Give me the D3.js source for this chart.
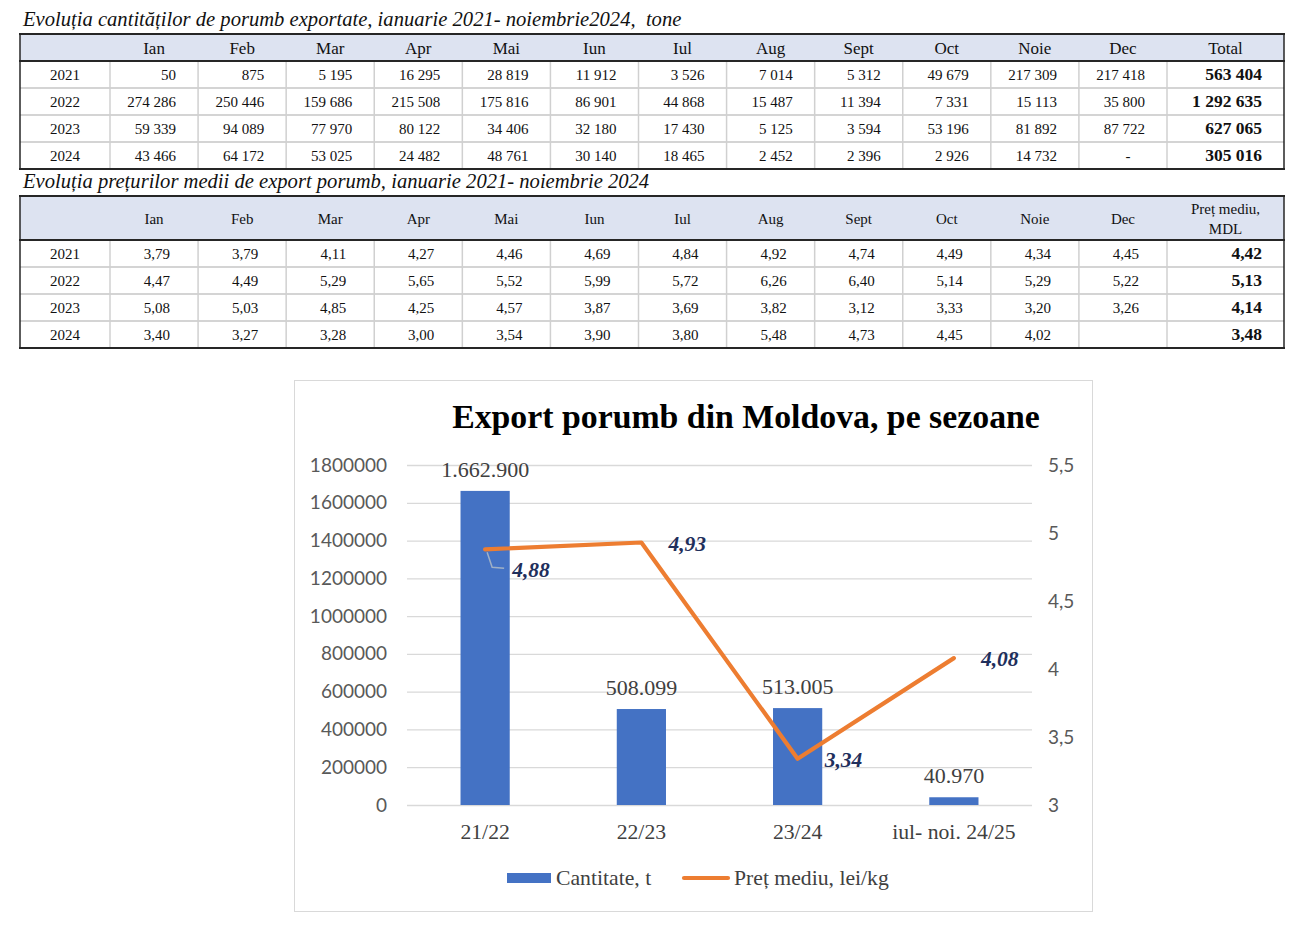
<!DOCTYPE html>
<html>
<head>
<meta charset="utf-8">
<script src="https://cdn.jsdelivr.net/npm/d3@7/dist/d3.min.js"></script>
<style>
body { margin: 0; background: #fff; }
</style>
</head>
<body>
<script>
// table data
var months = ["Ian", "Feb", "Mar", "Apr", "Mai", "Iun", "Iul", "Aug", "Sept", "Oct", "Noie", "Dec"];
var years = [2021, 2022, 2023, 2024];

var qty2021 = [50, 875, 5195, 16295, 28819, 11912, 3526, 7014, 5312, 49679, 217309, 217418];
var qty2022 = [274286, 250446, 159686, 215508, 175816, 86901, 44868, 15487, 11394, 7331, 15113, 35800];
var qty2023 = [59339, 94089, 77970, 80122, 34406, 32180, 17430, 5125, 3594, 53196, 81892, 87722];
var qty2024 = [43466, 64172, 53025, 24482, 48761, 30140, 18465, 2452, 2396, 2926, 14732, null];
var qtyTotals = [563404, 1292635, 627065, 305016];

var price2021 = [3.79, 3.79, 4.11, 4.27, 4.46, 4.69, 4.84, 4.92, 4.74, 4.49, 4.34, 4.45];
var price2022 = [4.47, 4.49, 5.29, 5.65, 5.52, 5.99, 5.72, 6.26, 6.40, 5.14, 5.29, 5.22];
var price2023 = [5.08, 5.03, 4.85, 4.25, 4.57, 3.87, 3.69, 3.82, 3.12, 3.33, 3.20, 3.26];
var price2024 = [3.40, 3.27, 3.28, 3.00, 3.54, 3.90, 3.80, 5.48, 4.73, 4.45, 4.02, null];
var priceAvg = [4.42, 5.13, 4.14, 3.48];

// chart data
var seasons = ["21/22", "22/23", "23/24", "iul- noi. 24/25"];
var seasonQty = [1662900, 508099, 513005, 40970];
var seasonPrice = [4.88, 4.93, 3.34, 4.08];
var qtyTicks = [0, 200000, 400000, 600000, 800000, 1000000, 1200000, 1400000, 1600000, 1800000];
var priceTicks = [3, 3.5, 4, 4.5, 5, 5.5];

var W = 1312, H = 932;
var serif = "'Liberation Serif', 'Times New Roman', serif";
var sans = "Lato, 'Open Sans', sans-serif";

var svg = d3.select("body").append("svg")
    .attr("width", W)
    .attr("height", H);

var spaceFmt = d3.formatLocale({decimal: ",", thousands: " ", grouping: [3], currency: ["", ""]});
var dotFmt = d3.formatLocale({decimal: ",", thousands: ".", grouping: [3], currency: ["", ""]});
var fmtQty = spaceFmt.format(",d");
var fmtPrice = spaceFmt.format(".2f");
var fmtBar = dotFmt.format(",d");
var fmtPriceLabel = dotFmt.format(".2f");
var fmtRight = dotFmt.format(".1~f");

var tableLeft = 20, tableRight = 1284, monthsRight = 1167, yearColRight = 110;
var colX = d3.scaleBand().domain(months).range([yearColRight, monthsRight]);

function drawTable(cfg) {
    var g = svg.append("g");
    var rowH = 27;
    var bodyTop = cfg.top + cfg.headH;
    var rowY = d3.scaleBand().domain(years).range([bodyTop, bodyTop + rowH * years.length]);
    var bottom = bodyTop + rowH * years.length;

    g.append("text")
        .attr("x", 23)
        .attr("y", cfg.top - 8)
        .attr("font-family", serif)
        .attr("font-style", "italic")
        .attr("font-size", cfg.titleSize)
        .attr("fill", "#111")
        .style("white-space", "pre")
        .text(cfg.title);

    g.append("rect")
        .attr("x", tableLeft)
        .attr("y", cfg.top)
        .attr("width", tableRight - tableLeft)
        .attr("height", cfg.headH)
        .attr("fill", "#dde3f1");

    // light row separators
    g.selectAll(".rowline")
        .data(years.slice(1))
        .enter()
        .append("line")
        .attr("x1", tableLeft)
        .attr("x2", tableRight)
        .attr("y1", function (d) { return rowY(d); })
        .attr("y2", function (d) { return rowY(d); })
        .attr("stroke", "#d4d4d4")
        .attr("stroke-width", 2);

    // vertical separators in body
    var vx = [yearColRight].concat(months.map(function (m) { return colX(m) + colX.bandwidth(); }));
    g.selectAll(".colline")
        .data(vx)
        .enter()
        .append("line")
        .attr("x1", function (d) { return d; })
        .attr("x2", function (d) { return d; })
        .attr("y1", bodyTop)
        .attr("y2", bottom)
        .attr("stroke", "#d0d0d0")
        .attr("stroke-width", 1.5);

    // heavy lines
    [cfg.top, bodyTop, bottom].forEach(function (y) {
        g.append("line")
            .attr("x1", tableLeft - 1).attr("x2", tableRight + 1)
            .attr("y1", y).attr("y2", y)
            .attr("stroke", "#262626")
            .attr("stroke-width", 2);
    });
    [tableLeft, tableRight].forEach(function (x) {
        g.append("line")
            .attr("x1", x).attr("x2", x)
            .attr("y1", cfg.top).attr("y2", bottom)
            .attr("stroke", "#262626")
            .attr("stroke-width", 1.5);
    });

    // header
    g.selectAll(".head")
        .data(months)
        .enter()
        .append("text")
        .attr("x", function (d) { return colX(d) + colX.bandwidth() / 2; })
        .attr("y", cfg.top + cfg.headH / 2 + 6)
        .attr("text-anchor", "middle")
        .attr("font-family", serif)
        .attr("font-size", cfg.headSize)
        .attr("fill", "#111")
        .text(function (d) { return d; });

    var totalX = (monthsRight + tableRight) / 2;
    cfg.totalHead.forEach(function (t, i) {
        var n = cfg.totalHead.length;
        g.append("text")
            .attr("x", totalX)
            .attr("y", cfg.top + cfg.headH / 2 + 6 + (i - (n - 1) / 2) * 20)
            .attr("text-anchor", "middle")
            .attr("font-family", serif)
            .attr("font-size", cfg.headSize)
            .attr("fill", "#111")
            .text(t);
    });

    var rows = g.selectAll(".row")
        .data(years)
        .enter()
        .append("g")
        .attr("transform", function (d) { return "translate(0," + (rowY(d) + rowH / 2 + 5) + ")"; });

    rows.append("text")
        .attr("x", (tableLeft + yearColRight) / 2)
        .attr("text-anchor", "middle")
        .attr("font-family", serif)
        .attr("font-size", 15)
        .attr("fill", "#111")
        .text(function (d) { return d; });

    rows.selectAll(".cell")
        .data(function (d, i) { return cfg.values[i]; })
        .enter()
        .append("text")
        .attr("x", function (d, j) {
            return d === null ? colX(months[j]) + colX.bandwidth() / 2 + 5 : colX(months[j]) + colX.bandwidth() - cfg.pad;
        })
        .attr("text-anchor", function (d) { return d === null ? "middle" : "end"; })
        .attr("font-family", serif)
        .attr("font-size", 15)
        .attr("fill", "#111")
        .text(function (d) { return d === null ? cfg.empty : cfg.fmt(d); });

    rows.append("text")
        .attr("x", tableRight - 22)
        .attr("text-anchor", "end")
        .attr("font-family", serif)
        .attr("font-weight", "bold")
        .attr("font-size", 17.5)
        .attr("fill", "#111")
        .text(function (d, i) { return cfg.fmt(cfg.totals[i]); });
}

drawTable({
    title: "Evoluția cantităților de porumb exportate, ianuarie 2021- noiembrie2024,  tone",
    titleSize: 20.6,
    top: 34,
    headH: 27,
    headSize: 17,
    totalHead: ["Total"],
    values: [qty2021, qty2022, qty2023, qty2024],
    totals: qtyTotals,
    fmt: fmtQty,
    empty: "-",
    pad: 22
});

drawTable({
    title: "Evoluția prețurilor medii de export porumb, ianuarie 2021- noiembrie 2024",
    titleSize: 20.6,
    top: 196,
    headH: 44,
    headSize: 15,
    totalHead: ["Preț mediu,", "MDL"],
    values: [price2021, price2022, price2023, price2024],
    totals: priceAvg,
    fmt: fmtPrice,
    empty: "",
    pad: 28
});

// combo chart
var chart = svg.append("g");

chart.append("rect")
    .attr("x", 294.5)
    .attr("y", 380.5)
    .attr("width", 798)
    .attr("height", 531)
    .attr("fill", "#fff")
    .attr("stroke", "#d9d9d9");

chart.append("text")
    .attr("x", 746)
    .attr("y", 428)
    .attr("text-anchor", "middle")
    .attr("font-family", serif)
    .attr("font-weight", "bold")
    .attr("font-size", 33.8)
    .attr("fill", "#000")
    .text("Export porumb din Moldova, pe sezoane");

var plotL = 407, plotR = 1032, plotT = 465, plotB = 805;
var x = d3.scaleBand().domain(seasons).range([plotL, plotR]);
var yQ = d3.scaleLinear().domain([0, 1800000]).range([plotB, plotT]);
var yP = d3.scaleLinear().domain([3, 5.5]).range([plotB, plotT]);

// gridlines
chart.append("g")
    .attr("transform", "translate(" + plotL + ",0)")
    .call(d3.axisLeft(yQ).tickValues(qtyTicks).tickSize(-(plotR - plotL)).tickFormat(""))
    .call(function (g) { g.select(".domain").remove(); })
    .call(function (g) { g.selectAll(".tick line").attr("stroke", "#d9d9d9").attr("stroke-width", 1.3); });

// left axis
chart.append("g")
    .attr("transform", "translate(" + plotL + ",0)")
    .call(d3.axisLeft(yQ).tickValues(qtyTicks).tickSize(0).tickPadding(20).tickFormat(d3.format("d")))
    .call(function (g) { g.select(".domain").remove(); })
    .call(function (g) {
        g.selectAll(".tick text")
            .attr("font-family", sans)
            .attr("font-size", 19)
            .attr("fill", "#595959");
    });

// right axis
chart.append("g")
    .attr("transform", "translate(" + plotR + ",0)")
    .call(d3.axisRight(yP).tickValues(priceTicks).tickSize(0).tickPadding(16).tickFormat(fmtRight))
    .call(function (g) { g.select(".domain").remove(); })
    .call(function (g) {
        g.selectAll(".tick text")
            .attr("font-family", sans)
            .attr("font-size", 19)
            .attr("fill", "#595959");
    });

// bottom labels
chart.append("g")
    .attr("transform", "translate(0," + plotB + ")")
    .call(d3.axisBottom(x).tickSize(0).tickPadding(19))
    .call(function (g) { g.select(".domain").remove(); })
    .call(function (g) {
        g.selectAll(".tick text")
            .attr("font-family", serif)
            .attr("font-size", 21.7)
            .attr("fill", "#404040");
    });

var barW = x.bandwidth() * 0.315;

chart.selectAll(".bar")
    .data(seasonQty)
    .enter()
    .append("rect")
    .attr("x", function (d, i) { return x(seasons[i]) + x.bandwidth() / 2 - barW / 2; })
    .attr("y", function (d) { return yQ(d); })
    .attr("width", barW)
    .attr("height", function (d) { return plotB - yQ(d); })
    .attr("fill", "#4472c4");

chart.selectAll(".barlabel")
    .data(seasonQty)
    .enter()
    .append("text")
    .attr("x", function (d, i) { return x(seasons[i]) + x.bandwidth() / 2; })
    .attr("y", function (d) { return yQ(d) - 14; })
    .attr("text-anchor", "middle")
    .attr("font-family", serif)
    .attr("font-size", 22)
    .attr("fill", "#404040")
    .text(function (d) { return fmtBar(d); });

var line = d3.line()
    .x(function (d, i) { return x(seasons[i]) + x.bandwidth() / 2; })
    .y(function (d) { return yP(d); });

chart.append("path")
    .datum(seasonPrice)
    .attr("d", line)
    .attr("fill", "none")
    .attr("stroke", "#ed7d31")
    .attr("stroke-width", 4.2)
    .attr("stroke-linejoin", "round")
    .attr("stroke-linecap", "round");

// first price label was dragged down in the original, with a leader line
var movedLabel = 0;
var px = function (i) { return x(seasons[i]) + x.bandwidth() / 2; };

chart.append("path")
    .attr("d", "M" + (px(movedLabel) + 2) + "," + (yP(seasonPrice[movedLabel]) + 3) +
        "l5,15l12,1")
    .attr("fill", "none")
    .attr("stroke", "#9fb0c6")
    .attr("stroke-width", 1.5);

chart.selectAll(".pricelabel")
    .data(seasonPrice)
    .enter()
    .append("text")
    .attr("x", function (d, i) { return px(i) + 27; })
    .attr("y", function (d, i) { return yP(d) + (i === movedLabel ? 28 : 8); })
    .attr("font-family", serif)
    .attr("font-weight", "bold")
    .attr("font-style", "italic")
    .attr("font-size", 21.5)
    .attr("fill", "#1f2f5c")
    .text(function (d) { return fmtPriceLabel(d); });

// legend
var legend = chart.append("g").attr("transform", "translate(0,878)");
legend.append("rect")
    .attr("x", 507).attr("y", -5)
    .attr("width", 44).attr("height", 10)
    .attr("fill", "#4472c4");
legend.append("text")
    .attr("x", 556).attr("y", 7)
    .attr("font-family", serif)
    .attr("font-size", 21.7)
    .attr("fill", "#404040")
    .text("Cantitate, t");
legend.append("line")
    .attr("x1", 684).attr("x2", 728)
    .attr("y1", 0).attr("y2", 0)
    .attr("stroke", "#ed7d31")
    .attr("stroke-width", 4.2)
    .attr("stroke-linecap", "round");
legend.append("text")
    .attr("x", 734).attr("y", 7)
    .attr("font-family", serif)
    .attr("font-size", 21.7)
    .attr("fill", "#404040")
    .text("Preț mediu, lei/kg");
</script>
</body>
</html>
